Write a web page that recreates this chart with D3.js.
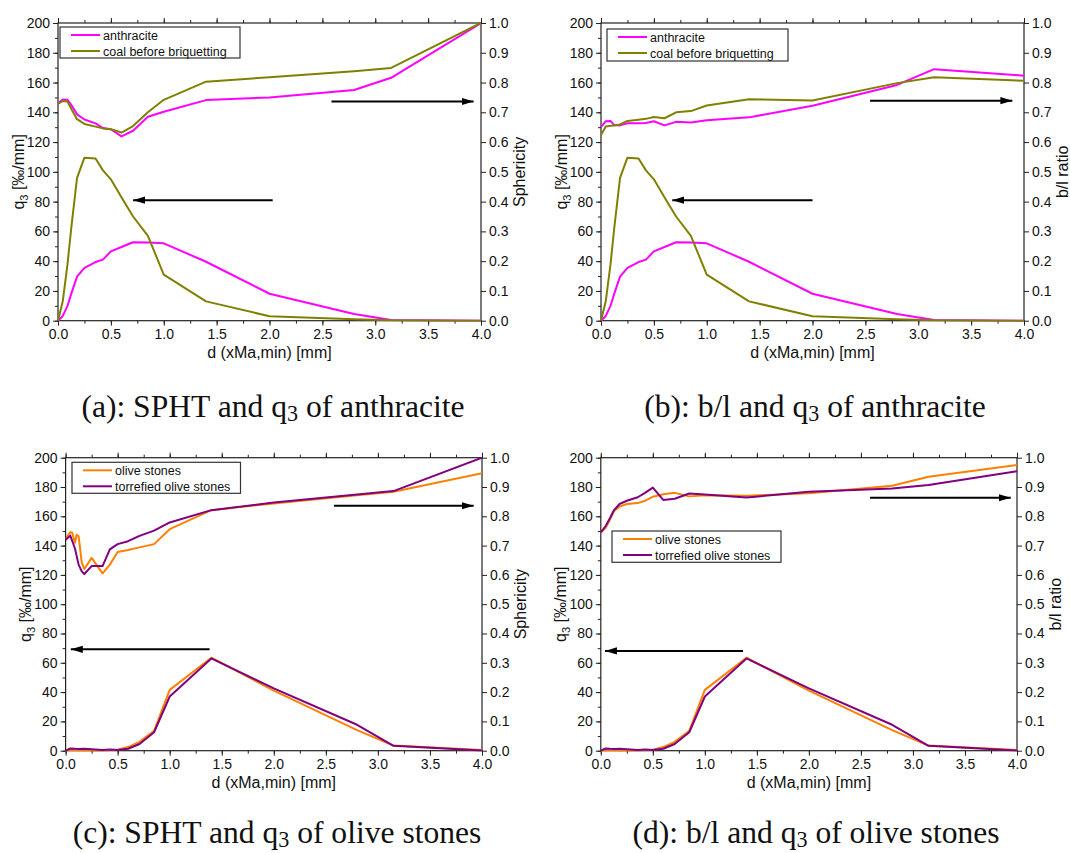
<!DOCTYPE html>
<html><head><meta charset="utf-8">
<script src="https://cdn.jsdelivr.net/npm/d3@7"></script>
<style>
body{margin:0;background:#fff;}
svg{display:block;}
.tick text{font-family:"Liberation Sans",Arial,sans-serif;font-size:14px;fill:#111;}
.tick line{stroke:#222;stroke-width:1;}
</style></head><body>
<svg id="chart" width="1070" height="853"></svg>
<script>
// ---------- data ----------
const xGrid = [0, 0.045, 0.09, 0.125, 0.18, 0.25, 0.355, 0.425, 0.5, 0.6, 0.71, 0.85, 1.0, 1.4, 2.0, 2.8, 3.15, 4.0];

const q3Anthracite = [0, 3.2, 10, 18, 29.6, 35.5, 39.4, 41, 46.6, 49.5, 52.7, 52.5, 52, 39.6, 18.1, 4.5, 0.5, 0];
const q3Coal       = [0, 13, 38, 62, 96, 109.5, 109, 101, 95, 83, 70, 57, 31, 13, 3, 1.0, 0.3, 0];
const sphtAnthracite = [0.73, 0.743, 0.742, 0.725, 0.693, 0.676, 0.663, 0.647, 0.643, 0.619, 0.638, 0.685, 0.702, 0.741, 0.75, 0.775, 0.816, 1.0];
const sphtCoal       = [0.728, 0.738, 0.736, 0.712, 0.677, 0.661, 0.652, 0.646, 0.643, 0.632, 0.654, 0.70, 0.742, 0.803, 0.818, 0.838, 0.849, 1.0];
const blAnthracite = [0.65, 0.67, 0.671, 0.657, 0.656, 0.663, 0.663, 0.664, 0.67, 0.656, 0.668, 0.666, 0.673, 0.683, 0.722, 0.792, 0.845, 0.823];
const blCoal       = [0.624, 0.652, 0.655, 0.656, 0.659, 0.671, 0.675, 0.678, 0.684, 0.68, 0.70, 0.704, 0.723, 0.744, 0.74, 0.798, 0.818, 0.806];

const q3Olive      = [0, 0.4, 0.3, 0.3, 0.2, 0.1, 0.2, 0.5, 0.6, 2.5, 6, 13.5, 41.5, 63.5, 41, 14, 3.5, 0.5];
const q3Torrefied  = [0, 1.5, 1.3, 1.2, 1.4, 1.0, 0.4, 0.8, 0.5, 1.3, 4.6, 12.6, 37, 63, 42.5, 17.7, 3.3, 0.2];
const blOlive      = [0.745, 0.76, 0.79, 0.817, 0.833, 0.842, 0.845, 0.853, 0.867, 0.875, 0.88, 0.868, 0.872, 0.87, 0.879, 0.904, 0.935, 0.975];
const blTorrefied  = [0.745, 0.766, 0.795, 0.82, 0.842, 0.853, 0.865, 0.88, 0.898, 0.856, 0.86, 0.878, 0.874, 0.864, 0.884, 0.895, 0.907, 0.954];

const xSphtOlive = [0, 0.045, 0.063, 0.09, 0.106, 0.125, 0.155, 0.18, 0.25, 0.355, 0.425, 0.5, 0.6, 0.71, 0.85, 1.0, 1.4, 2.0, 2.8, 3.15, 4.0];
const sphtOlive  = [0.722, 0.746, 0.744, 0.71, 0.737, 0.732, 0.643, 0.62, 0.658, 0.605, 0.635, 0.678, 0.685, 0.694, 0.705, 0.756, 0.821, 0.844, 0.872, 0.884, 0.947];
const xSphtTorrefied = [0, 0.045, 0.09, 0.125, 0.155, 0.18, 0.25, 0.355, 0.425, 0.5, 0.6, 0.71, 0.85, 1.0, 1.4, 2.0, 2.8, 3.15, 4.0];
const sphtTorrefied  = [0.72, 0.734, 0.69, 0.635, 0.612, 0.603, 0.63, 0.63, 0.687, 0.705, 0.715, 0.733, 0.751, 0.779, 0.821, 0.847, 0.874, 0.886, 1.0];

const xTicks = [0, 0.5, 1.0, 1.5, 2.0, 2.5, 3.0, 3.5, 4.0];
const xMinorTicks = d3.range(0, 4.001, 0.25);
const yLeftTicks = d3.range(0, 201, 20);
const yLeftMinor = d3.range(0, 201, 10);
const yRightTicks = d3.range(0, 1.0001, 0.1);

// arrows: in data units (x in mm, y in q3 units); tip at x2
const arrowsA = [{x1: 2.586, x2: 3.93, y: 147.3}, {x1: 2.03, x2: 0.71, y: 81}];
const arrowsB = [{x1: 2.544, x2: 3.89, y: 147.8}, {x1: 2.0, x2: 0.674, y: 81}];
const arrowsC = [{x1: 2.578, x2: 3.92, y: 167.2}, {x1: 1.383, x2: 0.05, y: 69.2}];
const arrowsD = [{x1: 2.588, x2: 3.94, y: 172.7}, {x1: 1.367, x2: 0.04, y: 68.1}];

const colors = {anthracite: "#ff00ff", coal: "#808000", olive: "#ff8000", torrefied: "#800080"};

// ---------- layout ----------
const panels = [
  {left: 58, right: 481, top: 23, bottom: 320.7, rightTitle: "Sphericity",
   q3: [[xGrid, q3Anthracite, colors.anthracite], [xGrid, q3Coal, colors.coal]],
   rs: [[xGrid, sphtAnthracite, colors.anthracite], [xGrid, sphtCoal, colors.coal]],
   legend: {x: 60, y: 27, w: 180, h: 31, items: [["anthracite", colors.anthracite], ["coal before briquetting", colors.coal]]},
   arrows: arrowsA, caption: ["(a): SPHT and q", "3", " of anthracite"], capX: 273, capY: 417},
  {left: 601, right: 1024, top: 23, bottom: 320.7, rightTitle: "b/l ratio",
   q3: [[xGrid, q3Anthracite, colors.anthracite], [xGrid, q3Coal, colors.coal]],
   rs: [[xGrid, blAnthracite, colors.anthracite], [xGrid, blCoal, colors.coal]],
   legend: {x: 607, y: 29, w: 181, h: 32, items: [["anthracite", colors.anthracite], ["coal before briquetting", colors.coal]]},
   arrows: arrowsB, caption: ["(b): b/l and q", "3", " of anthracite"], capX: 815, capY: 417},
  {left: 65.6, right: 482, top: 457.7, bottom: 750.7, rightTitle: "Sphericity",
   q3: [[xGrid, q3Olive, colors.olive], [xGrid, q3Torrefied, colors.torrefied]],
   rs: [[xSphtOlive, sphtOlive, colors.olive], [xSphtTorrefied, sphtTorrefied, colors.torrefied]],
   legend: {x: 72, y: 462.3, w: 168.5, h: 31, items: [["olive stones", colors.olive], ["torrefied olive stones", colors.torrefied]]},
   arrows: arrowsC, caption: ["(c): SPHT and q", "3", " of olive stones"], capX: 277, capY: 843},
  {left: 600.8, right: 1017, top: 457.7, bottom: 750.7, rightTitle: "b/l ratio",
   q3: [[xGrid, q3Olive, colors.olive], [xGrid, q3Torrefied, colors.torrefied]],
   rs: [[xGrid, blOlive, colors.olive], [xGrid, blTorrefied, colors.torrefied]],
   legend: {x: 612, y: 531, w: 169, h: 31.3, items: [["olive stones", colors.olive], ["torrefied olive stones", colors.torrefied]]},
   arrows: arrowsD, caption: ["(d): b/l and q", "3", " of olive stones"], capX: 816, capY: 843}
];

const svg = d3.select("#chart");
svg.append("rect").attr("width", 1070).attr("height", 853).attr("fill", "#fff");

const defs = svg.append("defs");
defs.append("marker").attr("id", "ah").attr("markerUnits", "userSpaceOnUse")
  .attr("markerWidth", 14).attr("markerHeight", 10).attr("refX", 12).attr("refY", 3.6)
  .attr("orient", "auto")
  .append("path").attr("d", "M0,0 L12,3.6 L0,7.2 Z").attr("fill", "#000");

const sans = '"Liberation Sans", Arial, sans-serif';
const serif = '"Liberation Serif", "Times New Roman", serif';
const titleSize = 16;

panels.forEach((p, pi) => {
  const g = svg.append("g");
  const x = d3.scaleLinear().domain([0, 4]).range([p.left, p.right]);
  const yL = d3.scaleLinear().domain([0, 200]).range([p.bottom, p.top]);
  const yR = d3.scaleLinear().domain([0, 1]).range([p.bottom, p.top]);

  // axes
  const ax = (gen, tr) => {
    const a = g.append("g").attr("transform", tr).call(gen);
    a.select(".domain").remove();
    return a;
  };
  ax(d3.axisBottom(x).tickValues(xMinorTicks).tickSize(3).tickFormat(""), `translate(0,${p.bottom})`);
  ax(d3.axisBottom(x).tickValues(xTicks).tickSize(5).tickPadding(3).tickFormat(d3.format(".1f")), `translate(0,${p.bottom})`);
  ax(d3.axisTop(x).tickValues(xMinorTicks).tickSize(3).tickFormat(""), `translate(0,${p.top})`);
  ax(d3.axisTop(x).tickValues(xTicks).tickSize(5).tickFormat(""), `translate(0,${p.top})`);
  ax(d3.axisLeft(yL).tickValues(yLeftMinor).tickSize(3).tickFormat(""), `translate(${p.left},0)`);
  ax(d3.axisLeft(yL).tickValues(yLeftTicks).tickSize(5).tickPadding(3).tickFormat(d3.format("d")), `translate(${p.left},0)`);
  ax(d3.axisRight(yR).tickValues(yRightTicks).tickSize(5).tickPadding(3).tickFormat(d3.format(".1f")), `translate(${p.right},0)`);

  // frame
  g.append("rect").attr("x", p.left).attr("y", p.top)
    .attr("width", p.right - p.left).attr("height", p.bottom - p.top)
    .attr("fill", "none").attr("stroke", "#222").attr("stroke-width", 1.2);

  // lines
  const clipId = "clip-panel-" + pi;
  defs.append("clipPath").attr("id", clipId).append("rect")
    .attr("x", p.left).attr("y", p.top - 2).attr("width", p.right - p.left).attr("height", p.bottom - p.top + 3);
  const lg = g.append("g").attr("clip-path", `url(#${clipId})`);
  const drawSeries = (xs, ys, color, yScale) => {
    const line = d3.line().x(d => x(d[0])).y(d => yScale(d[1]));
    lg.append("path").datum(xs.map((v, i) => [v, ys[i]]))
      .attr("d", line).attr("fill", "none").attr("stroke", color)
      .attr("stroke-width", 2).attr("stroke-linejoin", "round");
  };
  p.rs.forEach(s => drawSeries(s[0], s[1], s[2], yR));
  p.q3.forEach(s => drawSeries(s[0], s[1], s[2], yL));

  // arrows
  p.arrows.forEach(a => {
    g.append("line").attr("x1", x(a.x1)).attr("x2", x(a.x2))
      .attr("y1", yL(a.y)).attr("y2", yL(a.y))
      .attr("stroke", "#000").attr("stroke-width", 2).attr("marker-end", "url(#ah)");
  });

  // legend
  const L = p.legend;
  const leg = g.append("g");
  leg.append("rect").attr("x", L.x).attr("y", L.y).attr("width", L.w).attr("height", L.h)
    .attr("fill", "#fff").attr("stroke", "#333").attr("stroke-width", 1.2);
  L.items.forEach((it, i) => {
    const yy = L.y + 8 + i * 16;
    leg.append("line").attr("x1", L.x + 11).attr("x2", L.x + 40).attr("y1", yy).attr("y2", yy)
      .attr("stroke", it[1]).attr("stroke-width", 2);
    leg.append("text").attr("x", L.x + 43).attr("y", yy).attr("dy", "0.36em")
      .attr("font-family", sans).attr("font-size", 12.5).attr("fill", "#111").text(it[0]);
  });

  // axis titles
  g.append("text").attr("x", (p.left + p.right) / 2).attr("y", p.bottom + 32).attr("dy", "0.35em")
    .attr("text-anchor", "middle").attr("font-family", sans).attr("font-size", titleSize).attr("fill", "#111")
    .text("d (xMa,min) [mm]");
  const cy = (p.top + p.bottom) / 2;
  const yt = g.append("text").attr("transform", `translate(${p.left - 40},${cy}) rotate(-90)`)
    .attr("text-anchor", "middle").attr("dy", "0.35em").attr("font-family", sans).attr("font-size", titleSize).attr("fill", "#111");
  yt.append("tspan").text("q");
  yt.append("tspan").attr("font-size", 11).attr("dy", 4).text("3");
  yt.append("tspan").attr("dy", -4).text(" [‰/mm]");
  g.append("text").attr("transform", `translate(${p.right + 38},${cy}) rotate(-90)`)
    .attr("text-anchor", "middle").attr("dy", "0.35em").attr("font-family", sans).attr("font-size", titleSize).attr("fill", "#111")
    .text(p.rightTitle);

  // caption
  const cap = g.append("text").attr("x", p.capX).attr("y", p.capY).attr("text-anchor", "middle")
    .attr("font-family", serif).attr("font-size", 22).attr("fill", "#111");
  cap.append("tspan").text(p.caption[0]);
  cap.append("tspan").attr("font-size", 15).attr("dy", 4).text(p.caption[1]);
  cap.append("tspan").attr("dy", -4).text(p.caption[2]);
  p.capNode = cap;
});

// fit caption size to reference width of caption (a)
const w0 = panels[0].capNode.node().getBBox().width;
const fs = 22 * 383 / w0;
panels.forEach(p => {
  p.capNode.attr("font-size", fs);
  p.capNode.selectAll("tspan").filter((d, i) => i === 1).attr("font-size", fs * 0.7);
});
</script>
</body></html>
